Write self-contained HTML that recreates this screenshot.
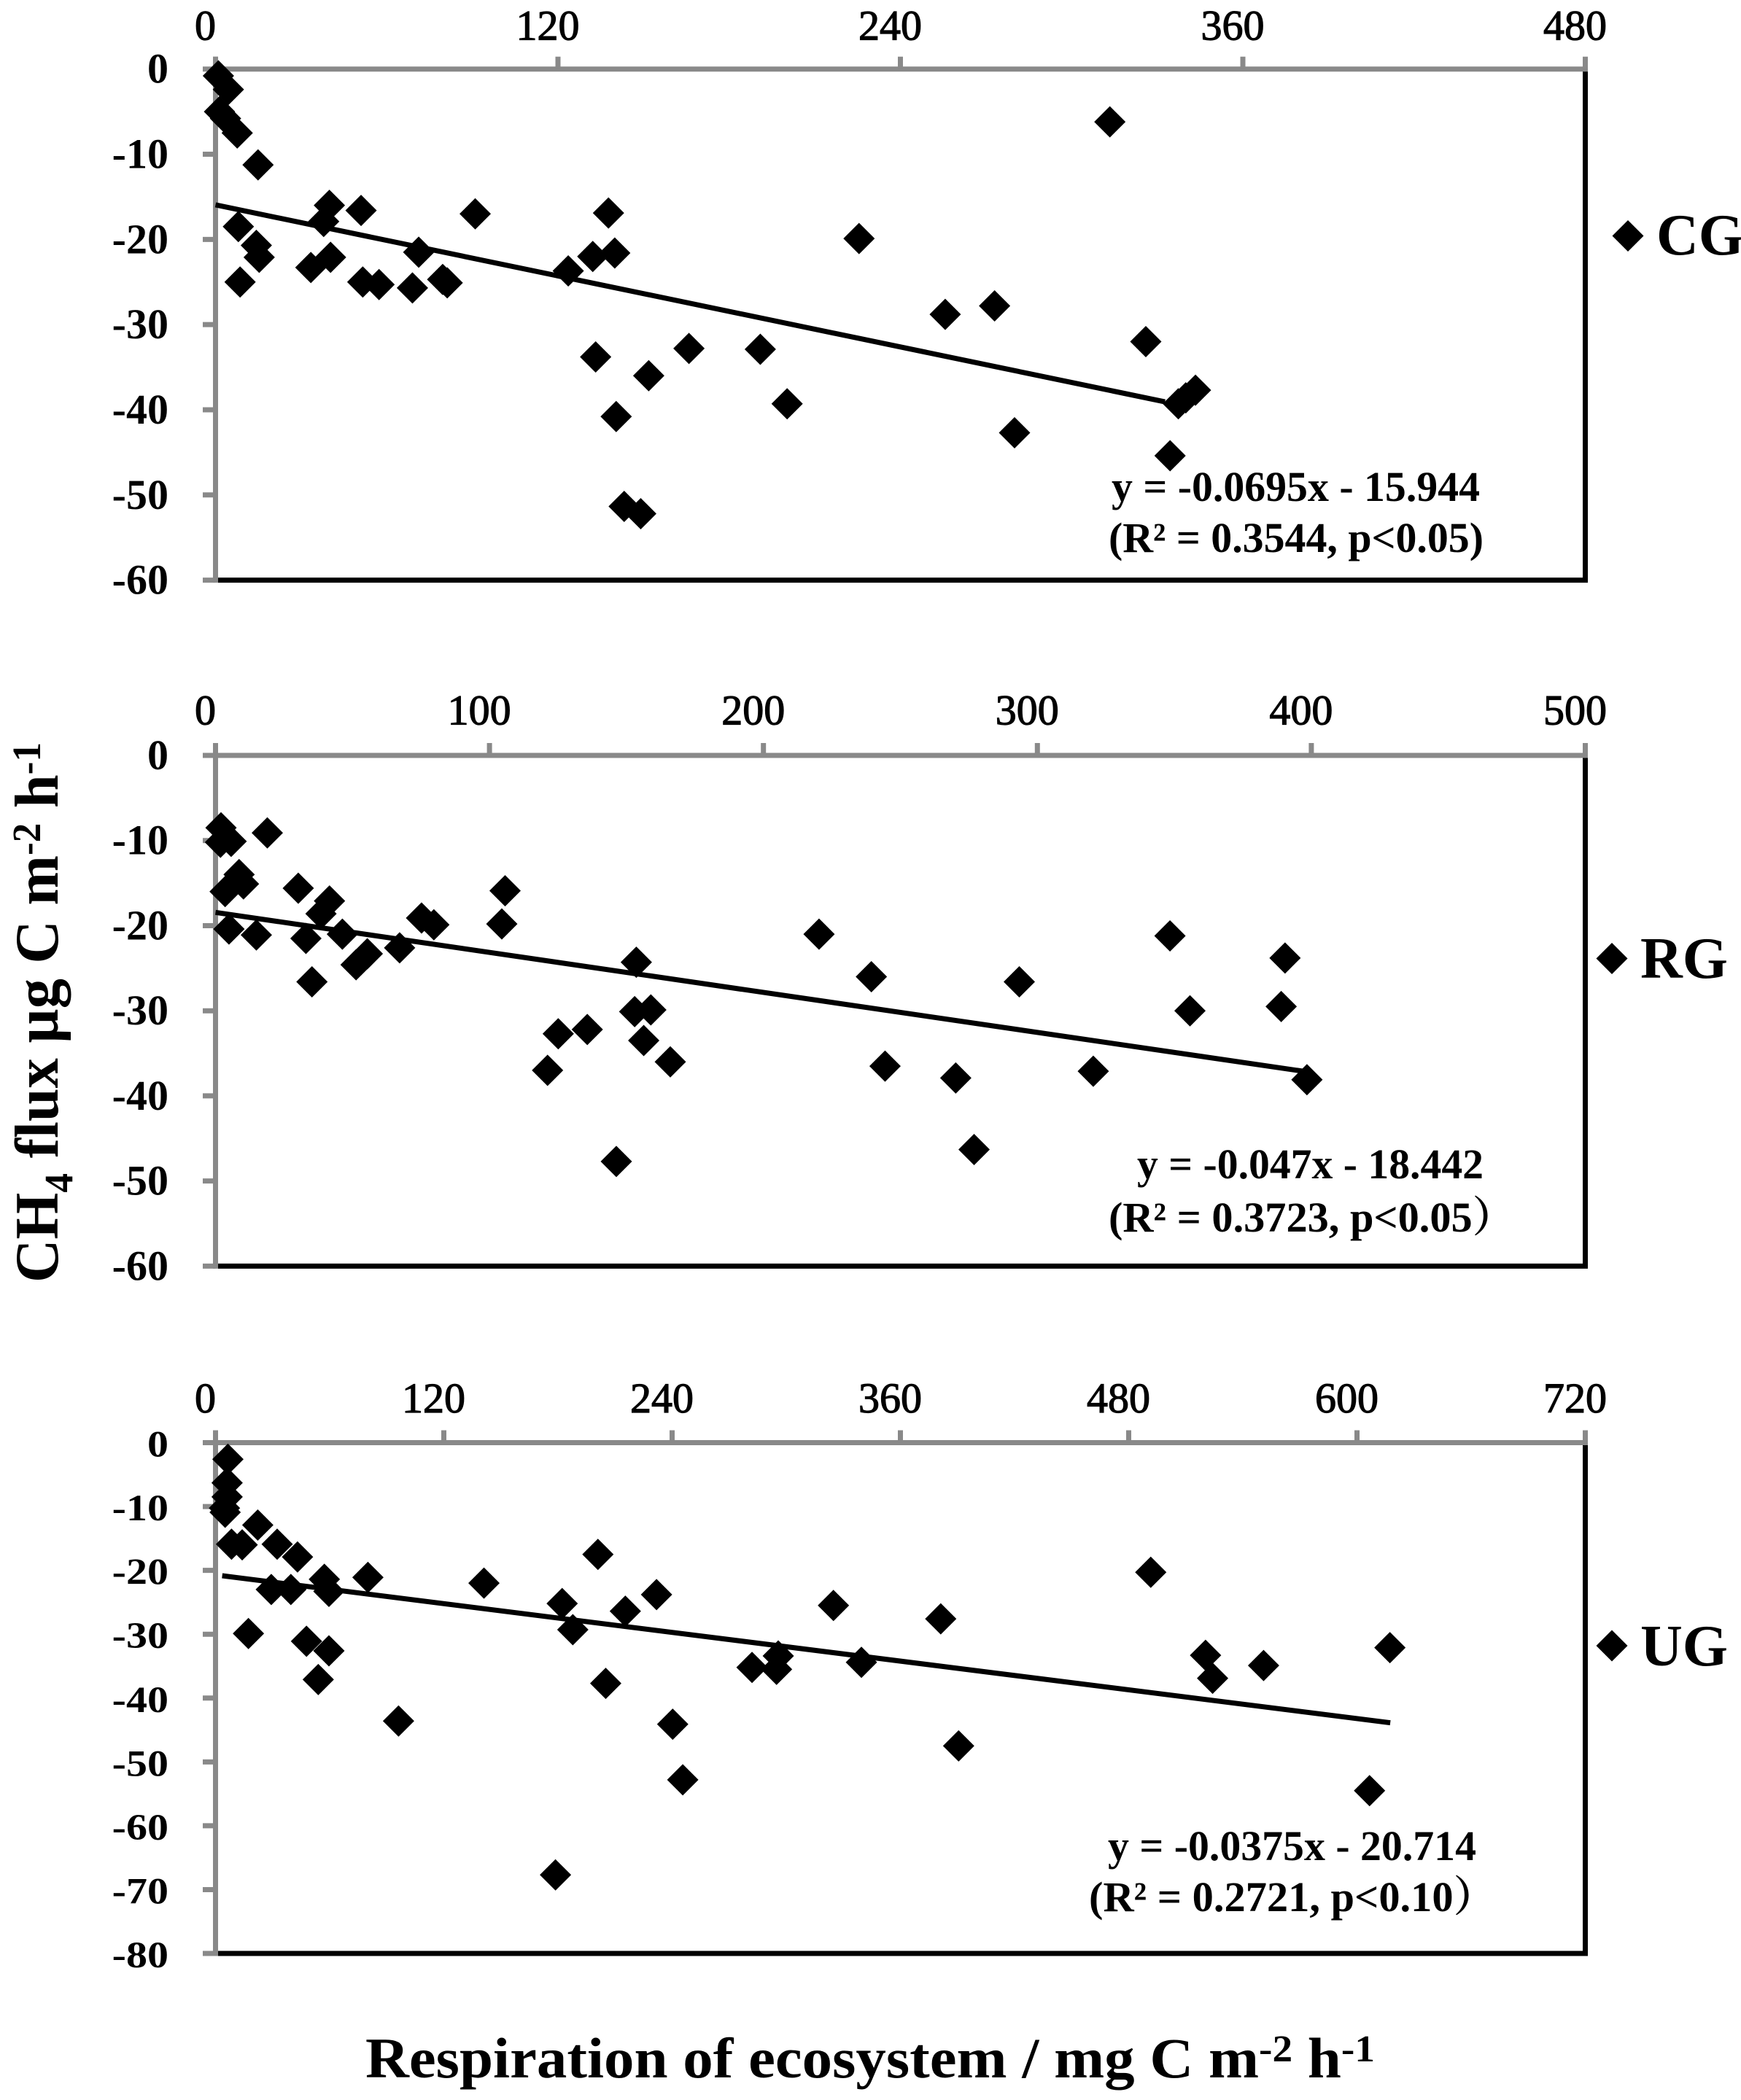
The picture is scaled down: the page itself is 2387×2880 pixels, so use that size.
<!DOCTYPE html>
<html lang="en">
<head>
<meta charset="utf-8">
<title>CH4 flux vs respiration of ecosystem</title>
<style>
html,body{margin:0;padding:0;background:#fff;}
svg{display:block;}
text{font-family:"Liberation Serif","Noto Serif CJK SC",serif;fill:#000;font-weight:bold;}
</style>
</head>
<body>
<svg id="chart" xmlns="http://www.w3.org/2000/svg" width="2387" height="2880" viewBox="0 0 2387 2880">
  <rect x="0" y="0" width="2387" height="2880" fill="#fff"/>
  <g id="panels"></g>

  <text transform="translate(79,1759) rotate(-90)" font-size="85" textLength="741" lengthAdjust="spacingAndGlyphs">CH<tspan font-size="55" dy="20">4</tspan><tspan dy="-20"> flux µg C m</tspan><tspan font-size="55" dy="-24">-2</tspan><tspan dy="24"> h</tspan><tspan font-size="55" dy="-24">-1</tspan></text>

  <text x="501" y="2849" font-size="78" textLength="1384" lengthAdjust="spacingAndGlyphs">Respiration of ecosystem / mg C m<tspan font-size="52" dy="-22">-2</tspan><tspan dy="22"> h</tspan><tspan font-size="52" dy="-22">-1</tspan></text>

  <text x="1524" y="687" font-size="58" textLength="505" lengthAdjust="spacingAndGlyphs">y = -0.0695x - 15.944</text>
  <text x="1520" y="757" font-size="58" textLength="514" lengthAdjust="spacingAndGlyphs">(R² = 0.3544, p&lt;0.05)</text>

  <text x="1559" y="1616" font-size="58" textLength="475" lengthAdjust="spacingAndGlyphs">y = -0.047x - 18.442</text>
  <text x="1520" y="1689" font-size="58" textLength="557" lengthAdjust="spacingAndGlyphs">(R² = 0.3723, p&lt;0.05）</text>

  <text x="1519" y="2551" font-size="58" textLength="505" lengthAdjust="spacingAndGlyphs">y = -0.0375x - 20.714</text>
  <text x="1493" y="2621" font-size="58" textLength="558" lengthAdjust="spacingAndGlyphs">(R² = 0.2721, p&lt;0.10）</text>

  <polygon points="2232,302 2253.5,323.5 2232,345 2210.5,323.5" fill="#000"/>
  <text x="2271" y="349" font-size="80">CG</text>
  <polygon points="2210,1293 2231.5,1314.5 2210,1336 2188.5,1314.5" fill="#000"/>
  <text x="2249" y="1341" font-size="80">RG</text>
  <polygon points="2210,2235.5 2231.5,2257 2210,2278.5 2188.5,2257" fill="#000"/>
  <text x="2249" y="2284" font-size="80">UG</text>
</svg>

<script>
// ---- data ----
var cgRespiration = [1,4.5,1.4,3.5,7.6,14.9,39.9,37.9,51,91,137.7,8,14.3,15.3,8.6,33.4,40.3,51.6,57.3,69,71.2,79.6,81.2,123.6,132.2,139.9,133.2,151.8,165.9,190.9,200.3,140.4,143.2,149,225.5,313.4,255.7,273,326,280,334.5,337.4,343.4,340];
var cgFlux = [-0.8,-2.4,-5,-5.8,-7.5,-11.25,-16,-17.9,-16.6,-17,-16.9,-18.5,-20.7,-22.1,-25,-23.3,-22.1,-25,-25.3,-25.7,-21.5,-24.7,-25.1,-23.7,-22,-21.6,-33.8,-36,-32.8,-32.9,-39.3,-40.8,-51.35,-52.2,-19.9,-6.2,-28.8,-27.8,-32,-42.7,-45.4,-39.3,-37.7,-38.6];
var rgRespiration = [2,1.8,5.7,18.9,8.6,10.2,3.5,30.2,41.6,38.5,4.9,14.9,33,46.3,55.4,51.3,35.2,67.2,75.2,79.7,105.7,104.5,153.6,153,158.9,156.3,166,125.1,135.7,121.2,146.3,220.3,239.4,244.4,270.2,276.9,293.4,320.4,348.4,355.7,389,390.4,398.4];
var rgFlux = [-8.5,-10.2,-10.1,-9.1,-14,-15.1,-16,-15.6,-17.1,-18.6,-20.4,-21.1,-21.5,-21,-23.3,-24.6,-26.6,-22.6,-19.1,-19.9,-15.9,-19.8,-24.3,-30.1,-29.9,-33.5,-36,-32.7,-32.2,-37,-47.7,-21,-26,-36.5,-37.9,-46.3,-26.6,-37.1,-21.2,-30,-29.5,-23.8,-38.1];
var ugRespiration = [6.5,6.1,6.1,4.7,5.05,22.2,8.4,14,32.4,43.1,57.2,29.3,39.6,59.6,80.1,17.3,47.8,59.6,54,96.2,141.1,182.2,187.8,201,215.4,231.8,205.1,240.3,245.6,178.7,282,294.9,295.8,324.8,339.5,381.2,390.6,491.6,520.4,524.1,550.9,617.3,606.6];
var ugFlux = [-2.6,-6.3,-8.5,-10.25,-10.9,-12.9,-15.9,-16,-15.9,-17.9,-21.4,-23,-23,-23.3,-21.1,-29.9,-31.1,-32.6,-37.1,-43.6,-22,-25.2,-29.3,-17.5,-26.4,-23.8,-37.7,-44.1,-52.8,-67.7,-35.2,-35.5,-33.4,-25.5,-34.4,-27.6,-47.5,-20.3,-33.3,-36.9,-34.9,-32.1,-54.5];

var cgXTicks = [0,120,240,360,480];
var rgXTicks = [0,100,200,300,400,500];
var ugXTicks = [0,120,240,360,480,600,720];
var cgYTicks = [0,-10,-20,-30,-40,-50,-60];
var rgYTicks = [0,-10,-20,-30,-40,-50,-60];
var ugYTicks = [0,-10,-20,-30,-40,-50,-60,-70,-80];

var cgFit = [-0.0695,-15.944];
var rgFit = [-0.047,-18.442];
var ugFit = [-0.0375,-20.714];
var cgFitRange = [0,332.7];
var rgFitRange = [0,397];
var ugFitRange = [3.5,617.5];

// ---- drawing ----
var SVGNS = 'http://www.w3.org/2000/svg';
var root = document.getElementById('panels');
var LEFT = 295.5, RIGHT = 2173.5, AXIS = '#898989', W = 7;

function make(parent, tag, attrs, text) {
  var n = document.createElementNS(SVGNS, tag);
  for (var k in attrs) { n.setAttribute(k, attrs[k]); }
  if (text !== undefined) { n.textContent = text; }
  parent.appendChild(n);
  return n;
}
function rule(parent, x1, y1, x2, y2, color) {
  return make(parent, 'line', {x1:x1, y1:y1, x2:x2, y2:y2, stroke:color, 'stroke-width':W});
}

function drawPanel(id, top, bottom, xs, ys, xTicks, yTicks, fit, fitRange, xBaseline, yLabelScale) {
  var xMax = xTicks[xTicks.length - 1];
  var yMin = yTicks[yTicks.length - 1];
  function sx(v) { return LEFT + (v / xMax) * (RIGHT - LEFT); }
  function sy(v) { return top + (v / yMin) * (bottom - top); }

  var g = make(root, 'g', {});
  
  

  var leftAxis = rule(g, LEFT, top - 17, LEFT, bottom + 3.5, AXIS);
  
  
  var bottomAxis = rule(g, LEFT + 3.5, bottom, RIGHT + 3.5, bottom, '#000');
  
  
  var rightAxis = rule(g, RIGHT, top, RIGHT, bottom, '#000');
  
  
  var topAxis = rule(g, LEFT, top, RIGHT + 3.5, top, AXIS);
  
  

  xTicks.forEach(function (t) {
    var tick = rule(g, sx(t), top - 17, sx(t), top, AXIS);
    
    
    var label = make(g, 'text', {x: sx(t) - 14, y: xBaseline, 'font-size': 58, 'text-anchor': 'middle', style: 'font-weight:normal;stroke:#000;stroke-width:1.2px'}, String(t));
    
    
  });

  yTicks.forEach(function (t) {
    var tick = rule(g, LEFT - 17.5, sy(t), LEFT, sy(t), AXIS);
    
    
    var base = sy(t) + 19;
    var label = make(g, 'text', {'font-size': 58, 'text-anchor': 'end', transform: 'translate(231,' + base + ') scale(1,' + yLabelScale + ')'}, String(t));
    
    
  });

  var trend = make(g, 'line', {x1: sx(fitRange[0]), y1: sy(fit[0] * fitRange[0] + fit[1]), x2: sx(fitRange[1]), y2: sy(fit[0] * fitRange[1] + fit[1]), stroke: '#000', 'stroke-width': 7});
  
  

  xs.forEach(function (v, i) {
    var cx = sx(v), cy = sy(ys[i]);
    var pts = cx + ',' + (cy - 21.5) + ' ' + (cx + 21.5) + ',' + cy + ' ' + cx + ',' + (cy + 21.5) + ' ' + (cx - 21.5) + ',' + cy;
    var p = make(g, 'polygon', {points: pts, fill: '#000'});
    
    
  });
}

drawPanel('cg', 94.7, 795.6, cgRespiration, cgFlux, cgXTicks, cgYTicks, cgFit, cgFitRange, 54.5, 1);
drawPanel('rg', 1036, 1736.4, rgRespiration, rgFlux, rgXTicks, rgYTicks, rgFit, rgFitRange, 993.6, 1);
drawPanel('ug', 1978.5, 2679, ugRespiration, ugFlux, ugXTicks, ugYTicks, ugFit, ugFitRange, 1936.8, 0.87);
</script>
</body>
</html>
